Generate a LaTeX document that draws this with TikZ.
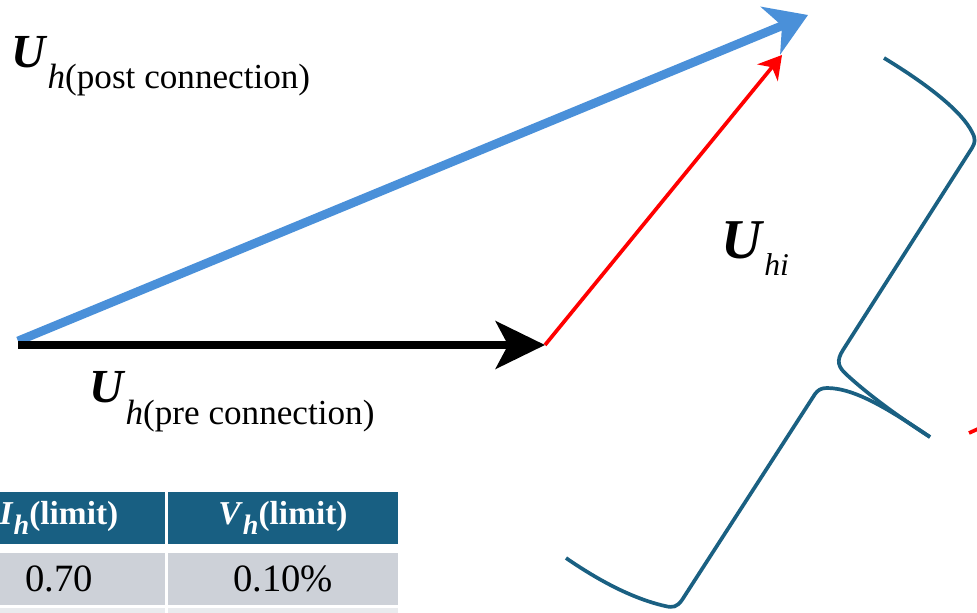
\documentclass[tikz,border=0pt]{standalone}
\usepackage{fontspec}
\setmainfont{Liberation Serif}
\usetikzlibrary{arrows.meta}

\definecolor{vecblue}{RGB}{74,144,217}
\definecolor{bracecol}{RGB}{26,96,130}
\definecolor{headblue}{RGB}{24,95,130}
\definecolor{rowgray}{RGB}{205,209,216}
\definecolor{rowlight}{RGB}{233,235,238}

\begin{document}
\begin{tikzpicture}[
        x=0.02cm, y=-0.02cm,
        bluevec/.style={draw=vecblue, line width=5pt,
            -{Stealth[length=23pt, width=29pt, inset=7pt]}},
        blackvec/.style={draw=black, line width=4.5pt,
            -{Stealth[length=28pt, width=27pt, inset=7pt]}},
        redvec/.style={draw=red, line width=2.1pt,
            -{Stealth[length=13pt, width=15pt, inset=4pt]}},
        headcell/.style={fill=headblue, text=white, inner sep=0pt,
            minimum height=1.04cm, font=\fontsize{19}{22}\selectfont\bfseries},
        bodycell/.style={fill=rowgray, inner sep=0pt,
            minimum height=1.04cm, font=\fontsize{22}{26}\selectfont},
        lightcell/.style={fill=rowlight, inner sep=0pt, minimum height=1.04cm}
    ]
        \clip (0,0) rectangle (977,612);

        % Vector end points
        \coordinate (bluestart) at (18,341);
        \coordinate (origin) at (18,345);
        \coordinate (pretip) at (545,345);
        \coordinate (posttip) at (808,15);
        \coordinate (hitip) at (782,55);

        % Vectors
        \draw[bluevec] (bluestart) -- (posttip);
        \draw[blackvec] (origin) -- (pretip);
        \draw[redvec] (pretip) -- (hitip);

        % Labels
        \node[anchor=base west, inner sep=0pt] (postlbl) at (11,67)
            {\fontsize{27}{30}\selectfont\textbf{\textit{U}}\raisebox{-12pt}{\fontsize{20}{24}\selectfont\textit{h}(post connection)}};
        \node[anchor=base west, inner sep=0pt] (prelbl) at (89,402)
            {\fontsize{27}{30}\selectfont\textbf{\textit{U}}\raisebox{-13pt}{\fontsize{20}{24}\selectfont\textit{h}(pre connection)}};
        \node[anchor=base west, inner sep=0pt] (hilbl) at (721,258)
            {\fontsize{32}{36}\selectfont\textbf{\textit{U}}\raisebox{-10pt}{\fontsize{18}{21}\selectfont\textit{hi}}};

        % Brace
        \draw[bracecol, line width=2.1pt]
            (884,58) .. controls (930,86) and (962,112) .. (972,132)
            .. controls (976,139) and (975,143) .. (972,148)
            -- (843,350) .. controls (836,361) and (838,367) .. (847,375)
            .. controls (872,398) and (905,421) .. (930,437);
        \draw[bracecol, line width=2.1pt]
            (930,437) .. controls (890,410) and (855,388) .. (827,388)
            .. controls (821,388) and (818,390) .. (815,394)
            -- (682,600) .. controls (677,607) and (673,608) .. (665,606)
            .. controls (630,598) and (595,578) .. (566,558);

        % Next vector, cut off at the edge
        \coordinate (nextstart) at (969,433);
        \coordinate (nextend) at (980,428);
        \draw[red, line width=2.1pt] (nextstart) -- (nextend);

        % Table
        \node[headcell, minimum width=4.24cm] (head1) at (59,518)
            {\textit{I}\raisebox{-6pt}{\fontsize{16}{18}\selectfont\textit{h}}(limit)};
        \node[headcell, minimum width=4.6cm] (head2) at (283,518)
            {\textit{V}\raisebox{-6pt}{\fontsize{16}{18}\selectfont\textit{h}}(limit)};
        \node[bodycell, minimum width=4.24cm] (cellIa) at (59,579) {0.70};
        \node[bodycell, minimum width=4.6cm] (cellVa) at (283,579) {0.10\%};
        \node[lightcell, minimum width=4.24cm] (cellIb) at (59,634) {};
        \node[lightcell, minimum width=4.6cm] (cellVb) at (283,634) {};

\end{tikzpicture}
\end{document}
